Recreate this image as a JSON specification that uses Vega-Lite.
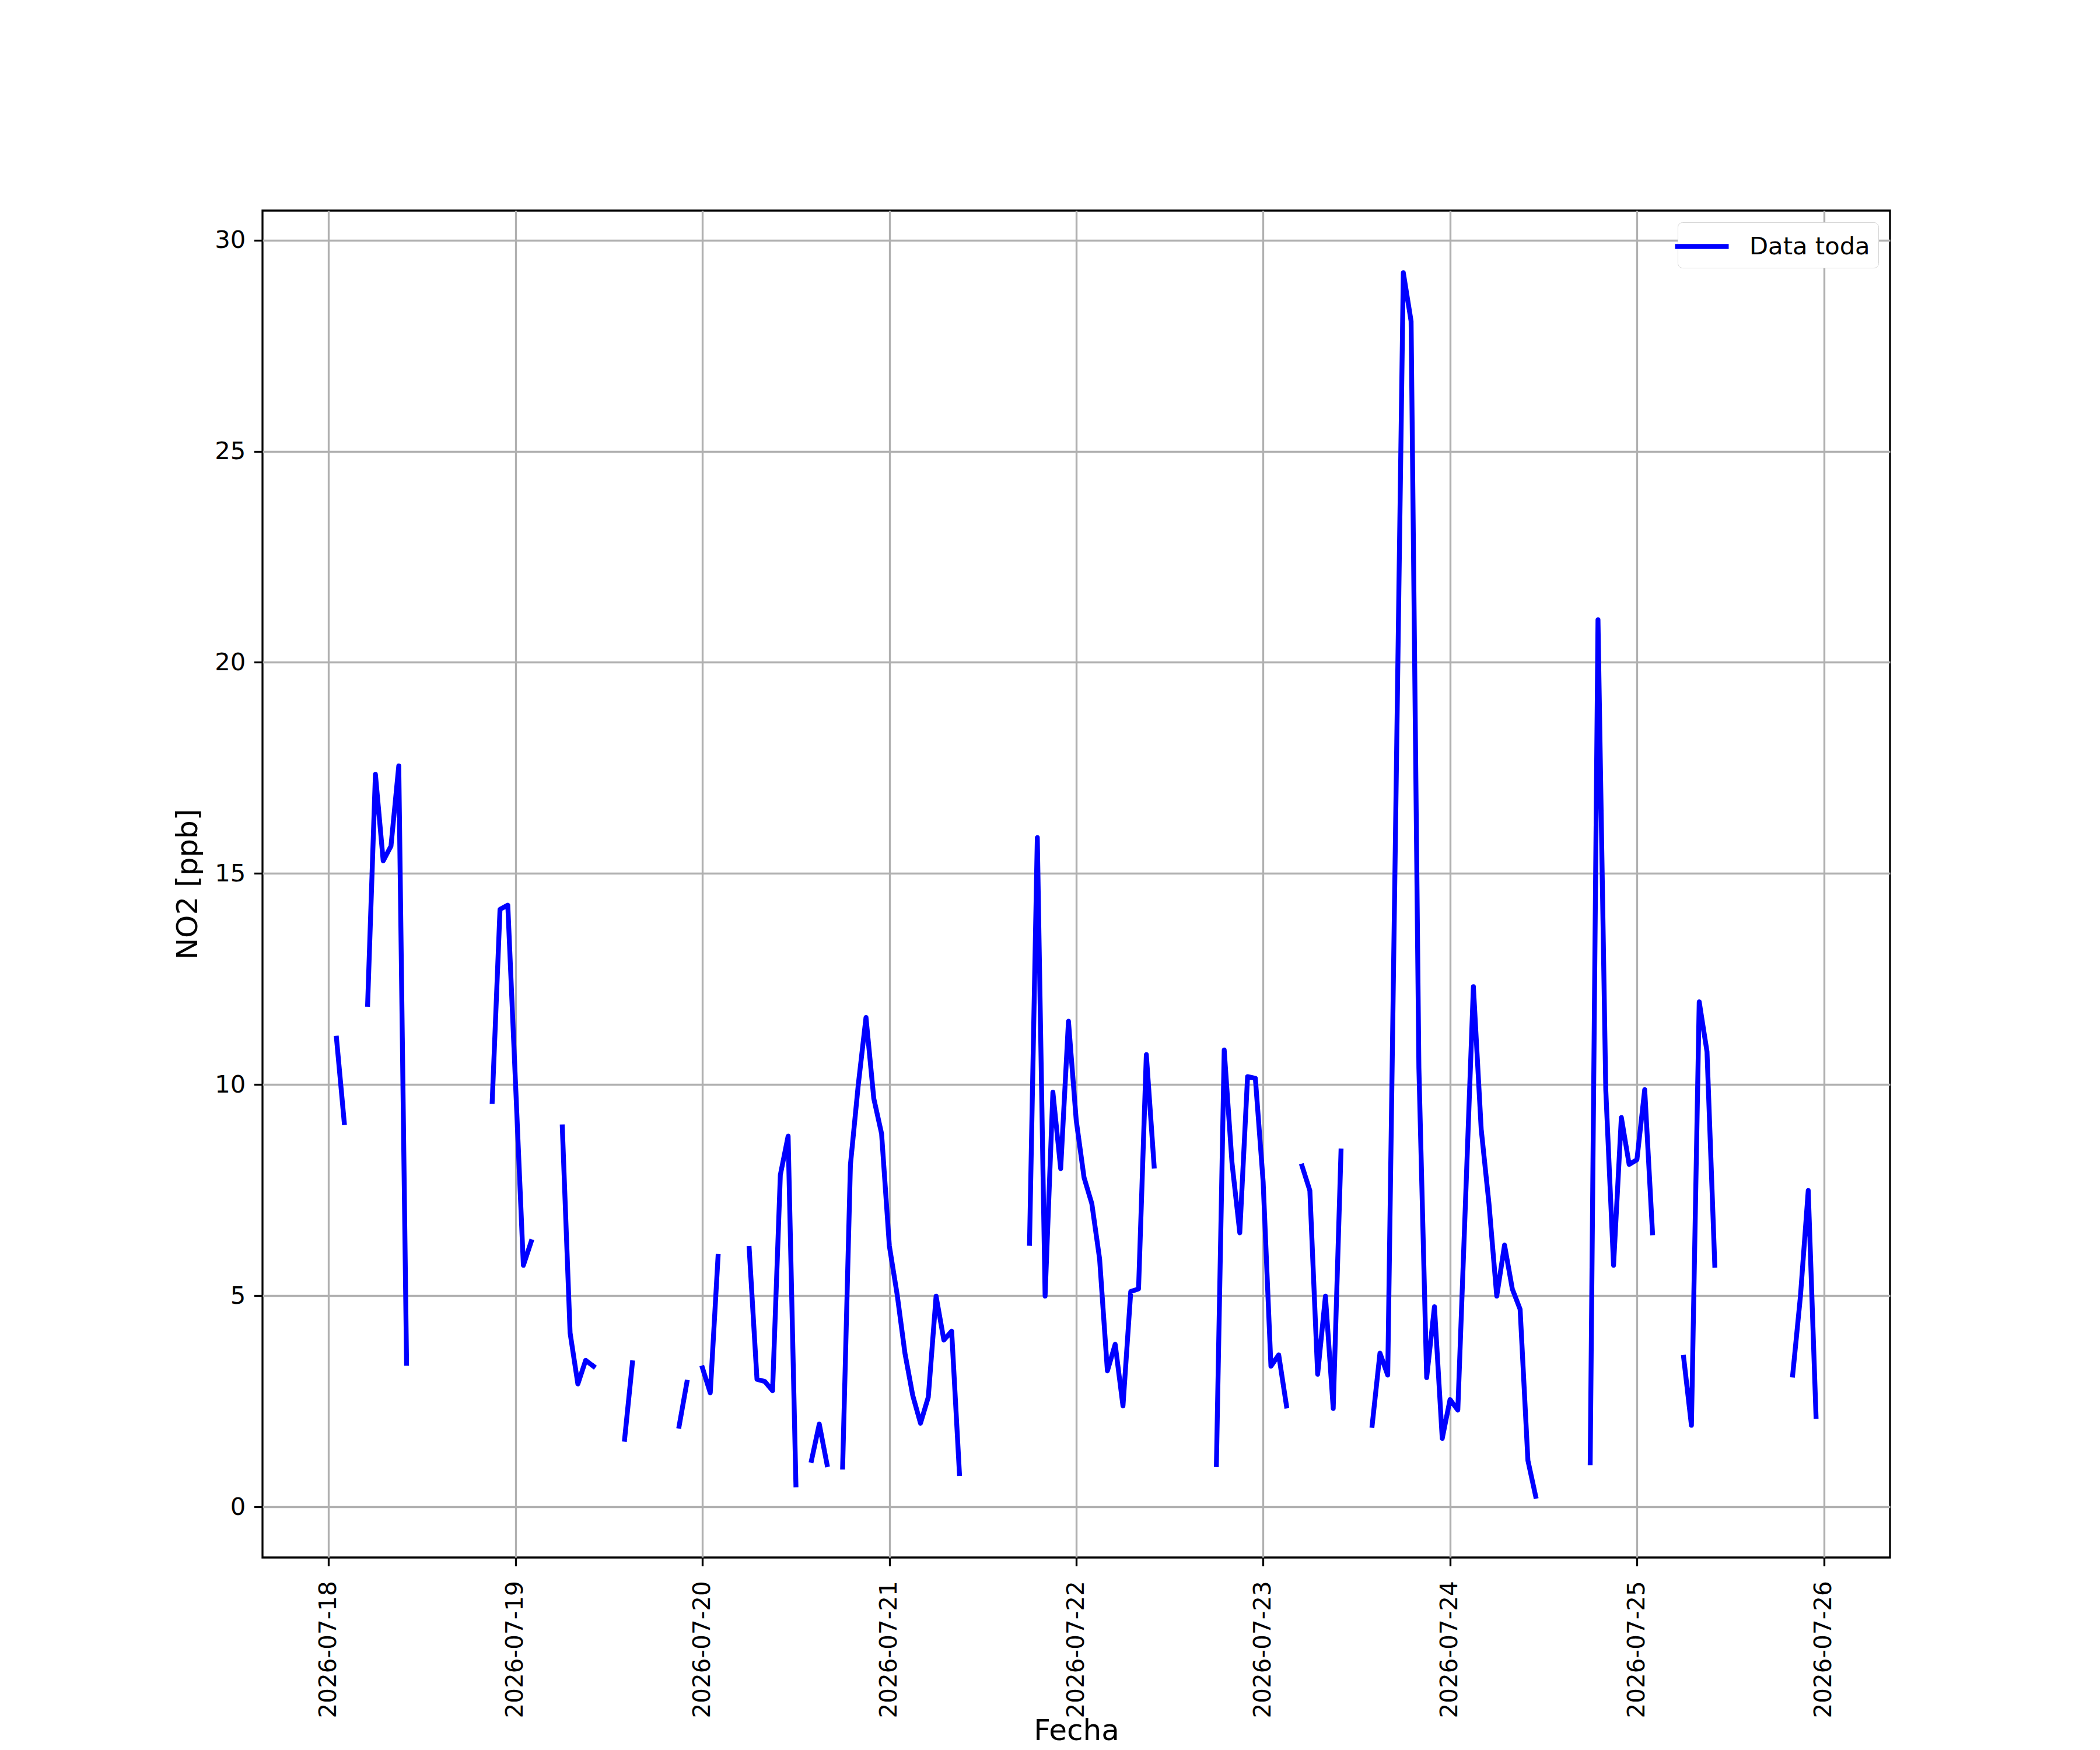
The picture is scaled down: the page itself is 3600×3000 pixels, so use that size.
{
  "$schema": "https://vega.github.io/schema/vega-lite/v6.json",
  "width": 2790,
  "height": 2309,
  "autosize": {"type": "none"},
  "padding": {"left": 450, "top": 361, "right": 360, "bottom": 330},
  "background": "white",
  "config": {
    "font": "DejaVu Sans",
    "view": {"stroke": "black", "strokeWidth": 3.3},
    "axis": {
      "domain": false,
      "grid": true,
      "gridColor": "#b0b0b0",
      "gridWidth": 3.3,
      "tickColor": "black",
      "tickWidth": 3.3,
      "tickSize": 14.6,
      "labelFont": "DejaVu Sans",
      "labelFontSize": 41.7,
      "labelColor": "black",
      "labelLimit": 0,
      "titleFont": "DejaVu Sans",
      "titleFontSize": 50,
      "titleFontWeight": "normal",
      "titleColor": "black"
    }
  },
  "data": {
    "values": [
      {"t": "2026-07-18T01:00", "v": 11.1},
      {"t": "2026-07-18T02:00", "v": 9.1},
      {"t": "2026-07-18T03:00", "v": null},
      {"t": "2026-07-18T05:00", "v": 11.9},
      {"t": "2026-07-18T06:00", "v": 17.35},
      {"t": "2026-07-18T07:00", "v": 15.3},
      {"t": "2026-07-18T08:00", "v": 15.65},
      {"t": "2026-07-18T09:00", "v": 17.55},
      {"t": "2026-07-18T10:00", "v": 3.4},
      {"t": "2026-07-18T11:00", "v": null},
      {"t": "2026-07-18T21:00", "v": 9.6},
      {"t": "2026-07-18T22:00", "v": 14.15},
      {"t": "2026-07-18T23:00", "v": 14.25},
      {"t": "2026-07-19T00:00", "v": 10.0},
      {"t": "2026-07-19T01:00", "v": 5.72},
      {"t": "2026-07-19T02:00", "v": 6.28},
      {"t": "2026-07-19T03:00", "v": null},
      {"t": "2026-07-19T06:00", "v": 9.0},
      {"t": "2026-07-19T07:00", "v": 4.12},
      {"t": "2026-07-19T08:00", "v": 2.91},
      {"t": "2026-07-19T09:00", "v": 3.47},
      {"t": "2026-07-19T10:00", "v": 3.33},
      {"t": "2026-07-19T11:00", "v": null},
      {"t": "2026-07-19T14:00", "v": 1.6},
      {"t": "2026-07-19T15:00", "v": 3.41},
      {"t": "2026-07-19T16:00", "v": null},
      {"t": "2026-07-19T21:00", "v": 1.91},
      {"t": "2026-07-19T22:00", "v": 2.95},
      {"t": "2026-07-19T23:00", "v": null},
      {"t": "2026-07-20T00:00", "v": 3.29},
      {"t": "2026-07-20T01:00", "v": 2.7},
      {"t": "2026-07-20T02:00", "v": 5.93},
      {"t": "2026-07-20T03:00", "v": null},
      {"t": "2026-07-20T06:00", "v": 6.12},
      {"t": "2026-07-20T07:00", "v": 3.02},
      {"t": "2026-07-20T08:00", "v": 2.97},
      {"t": "2026-07-20T09:00", "v": 2.75},
      {"t": "2026-07-20T10:00", "v": 7.86},
      {"t": "2026-07-20T11:00", "v": 8.78},
      {"t": "2026-07-20T12:00", "v": 0.52},
      {"t": "2026-07-20T13:00", "v": null},
      {"t": "2026-07-20T14:00", "v": 1.1},
      {"t": "2026-07-20T15:00", "v": 1.96},
      {"t": "2026-07-20T16:00", "v": 1.0},
      {"t": "2026-07-20T17:00", "v": null},
      {"t": "2026-07-20T18:00", "v": 0.94},
      {"t": "2026-07-20T19:00", "v": 8.1},
      {"t": "2026-07-20T20:00", "v": 9.98},
      {"t": "2026-07-20T21:00", "v": 11.59},
      {"t": "2026-07-20T22:00", "v": 9.67},
      {"t": "2026-07-20T23:00", "v": 8.84},
      {"t": "2026-07-21T00:00", "v": 6.18},
      {"t": "2026-07-21T01:00", "v": 5.03},
      {"t": "2026-07-21T02:00", "v": 3.64},
      {"t": "2026-07-21T03:00", "v": 2.64},
      {"t": "2026-07-21T04:00", "v": 1.98},
      {"t": "2026-07-21T05:00", "v": 2.6},
      {"t": "2026-07-21T06:00", "v": 4.99},
      {"t": "2026-07-21T07:00", "v": 3.95},
      {"t": "2026-07-21T08:00", "v": 4.16},
      {"t": "2026-07-21T09:00", "v": 0.79},
      {"t": "2026-07-21T10:00", "v": null},
      {"t": "2026-07-21T18:00", "v": 6.24},
      {"t": "2026-07-21T19:00", "v": 15.85},
      {"t": "2026-07-21T20:00", "v": 4.99},
      {"t": "2026-07-21T21:00", "v": 9.82},
      {"t": "2026-07-21T22:00", "v": 8.01},
      {"t": "2026-07-21T23:00", "v": 11.5},
      {"t": "2026-07-22T00:00", "v": 9.15},
      {"t": "2026-07-22T01:00", "v": 7.8},
      {"t": "2026-07-22T02:00", "v": 7.18},
      {"t": "2026-07-22T03:00", "v": 5.87},
      {"t": "2026-07-22T04:00", "v": 3.22},
      {"t": "2026-07-22T05:00", "v": 3.85},
      {"t": "2026-07-22T06:00", "v": 2.39},
      {"t": "2026-07-22T07:00", "v": 5.1},
      {"t": "2026-07-22T08:00", "v": 5.16},
      {"t": "2026-07-22T09:00", "v": 10.71},
      {"t": "2026-07-22T10:00", "v": 8.07},
      {"t": "2026-07-22T11:00", "v": null},
      {"t": "2026-07-22T18:00", "v": 1.0},
      {"t": "2026-07-22T19:00", "v": 10.82},
      {"t": "2026-07-22T20:00", "v": 8.15},
      {"t": "2026-07-22T21:00", "v": 6.49},
      {"t": "2026-07-22T22:00", "v": 10.19},
      {"t": "2026-07-22T23:00", "v": 10.15},
      {"t": "2026-07-23T00:00", "v": 7.7},
      {"t": "2026-07-23T01:00", "v": 3.33},
      {"t": "2026-07-23T02:00", "v": 3.6},
      {"t": "2026-07-23T03:00", "v": 2.39},
      {"t": "2026-07-23T04:00", "v": null},
      {"t": "2026-07-23T05:00", "v": 8.07},
      {"t": "2026-07-23T06:00", "v": 7.49},
      {"t": "2026-07-23T07:00", "v": 3.14},
      {"t": "2026-07-23T08:00", "v": 4.99},
      {"t": "2026-07-23T09:00", "v": 2.33},
      {"t": "2026-07-23T10:00", "v": 8.43},
      {"t": "2026-07-23T11:00", "v": null},
      {"t": "2026-07-23T14:00", "v": 1.93},
      {"t": "2026-07-23T15:00", "v": 3.64},
      {"t": "2026-07-23T16:00", "v": 3.12},
      {"t": "2026-07-23T17:00", "v": 16.0},
      {"t": "2026-07-23T18:00", "v": 29.23},
      {"t": "2026-07-23T19:00", "v": 28.08},
      {"t": "2026-07-23T20:00", "v": 10.4},
      {"t": "2026-07-23T21:00", "v": 3.06},
      {"t": "2026-07-23T22:00", "v": 4.74},
      {"t": "2026-07-23T23:00", "v": 1.62},
      {"t": "2026-07-24T00:00", "v": 2.54},
      {"t": "2026-07-24T01:00", "v": 2.29},
      {"t": "2026-07-24T02:00", "v": 7.3},
      {"t": "2026-07-24T03:00", "v": 12.32},
      {"t": "2026-07-24T04:00", "v": 8.95},
      {"t": "2026-07-24T05:00", "v": 7.18},
      {"t": "2026-07-24T06:00", "v": 4.99},
      {"t": "2026-07-24T07:00", "v": 6.2},
      {"t": "2026-07-24T08:00", "v": 5.16},
      {"t": "2026-07-24T09:00", "v": 4.68},
      {"t": "2026-07-24T10:00", "v": 1.1},
      {"t": "2026-07-24T11:00", "v": 0.25},
      {"t": "2026-07-24T12:00", "v": null},
      {"t": "2026-07-24T18:00", "v": 1.04},
      {"t": "2026-07-24T19:00", "v": 21.01},
      {"t": "2026-07-24T20:00", "v": 9.88},
      {"t": "2026-07-24T21:00", "v": 5.72},
      {"t": "2026-07-24T22:00", "v": 9.22},
      {"t": "2026-07-24T23:00", "v": 8.11},
      {"t": "2026-07-25T00:00", "v": 8.22},
      {"t": "2026-07-25T01:00", "v": 9.88},
      {"t": "2026-07-25T02:00", "v": 6.49},
      {"t": "2026-07-25T03:00", "v": null},
      {"t": "2026-07-25T06:00", "v": 3.54},
      {"t": "2026-07-25T07:00", "v": 1.93},
      {"t": "2026-07-25T08:00", "v": 11.96},
      {"t": "2026-07-25T09:00", "v": 10.78},
      {"t": "2026-07-25T10:00", "v": 5.72},
      {"t": "2026-07-25T11:00", "v": null},
      {"t": "2026-07-25T20:00", "v": 3.12},
      {"t": "2026-07-25T21:00", "v": 4.99},
      {"t": "2026-07-25T22:00", "v": 7.49},
      {"t": "2026-07-25T23:00", "v": 2.14}
    ]
  },
  "mark": {
    "type": "line",
    "strokeWidth": 8.33,
    "strokeCap": "square",
    "strokeJoin": "round",
    "invalid": "break-paths-show-domains"
  },
  "encoding": {
    "x": {
      "field": "t",
      "type": "temporal",
      "title": "Fecha",
      "scale": {
        "domain": [
          {"year": 2026, "month": 7, "date": 17, "hours": 15, "minutes": 30},
          {"year": 2026, "month": 7, "date": 26, "hours": 8, "minutes": 30}
        ],
        "nice": false
      },
      "axis": {
        "tickCount": {"interval": "day", "step": 1},
        "format": "%Y-%m-%d",
        "labelAngle": 270,
        "labelFontSize": 40.5,
        "labelPadding": 25,
        "labelOverlap": false,
        "labelFlush": false,
        "labelBound": false,
        "titleBaseline": "alphabetic",
        "titleY": 312
      }
    },
    "y": {
      "field": "v",
      "type": "quantitative",
      "title": "NO2 [ppb]",
      "scale": {"domain": [-1.2, 30.7], "nice": false, "zero": false},
      "axis": {
        "values": [0, 5, 10, 15, 20, 25, 30],
        "labelPadding": 14.6,
        "titlePadding": 20
      }
    },
    "color": {
      "datum": "Data toda",
      "type": "nominal",
      "scale": {"range": ["#0000ff"]},
      "legend": {
        "title": null,
        "orient": "top-right",
        "offset": 20,
        "symbolType": "M-2,0H2",
        "symbolSize": 2116,
        "symbolStrokeWidth": 8.33,
        "labelFontSize": 41.7,
        "labelColor": "black",
        "labelLimit": 0,
        "labelOffset": 54,
        "padding": 14,
        "fillColor": "white",
        "strokeColor": "#d6d6d6",
        "cornerRadius": 8
      }
    }
  }
}
